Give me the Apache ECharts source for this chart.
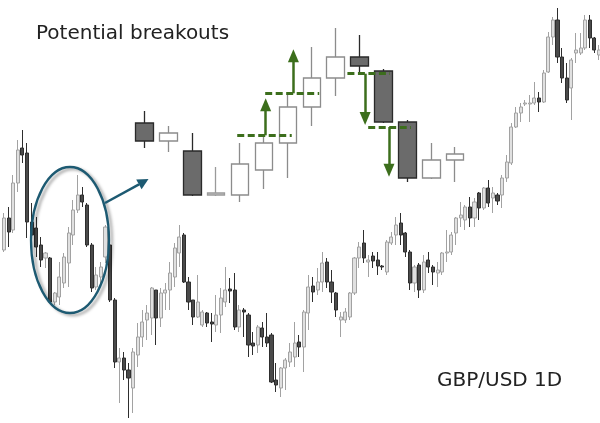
<!DOCTYPE html>
<html><head><meta charset="utf-8">
<script src="https://cdn.jsdelivr.net/npm/echarts@6/dist/echarts.min.js"></script>
<style>html,body{margin:0;padding:0;background:#fff}#c{width:600px;height:423px}</style>
</head><body><div id="c"></div><script>
// Main GBP/USD daily candles (price levels)
const mainOpen = [170,202,190,237,272,267,198,192,175,162, 162,118,123,137,157,185,210,225,215,175, 133,143,163,175,120,58,62,50,32,65, 83,100,102,130,102,127,130,143,167,185, 138,120,103,95,107,98,95,105,118,131, 130,93,110,105,77,75,92,83,85,40, 32,52,58,63,78,73,107,134,130,138, 158,138,127,100,100,103,127,162,177,158, 164,160,154,148,177,185,197,187,168,137, 155,130,160,153,147,148,167,168,187,202, 200,213,202,227,212,232,222,225,225,242, 257,293,307,316,316,317,322,318,348,383, 400,363,342,332,367,367,372,400,382,365];
const mainClose = [202,188,237,270,265,198,185,173,160,167, 118,127,143,163,187,210,225,218,175,132, 145,153,193,120,58,62,50,42,68,83, 98,107,132,102,127,130,147,172,183,138, 118,103,118,108,97,96,105,122,130,129, 93,110,108,75,74,93,83,77,38,35, 52,60,68,77,73,108,133,128,138,157, 138,128,110,103,108,127,162,173,162,160, 159,154,153,178,183,195,185,168,137,153, 130,158,153,148,150,167,168,185,202,205, 213,202,218,212,232,217,227,219,242,258, 293,307,313,317,317,322,318,347,383,400, 363,342,320,360,370,372,400,382,370,370];
const mainLow = [168,173,187,228,257,182,180,163,153,152, 117,115,115,132,133,175,207,213,173,128, 130,135,157,118,52,17,40,2,7,53, 73,80,85,75,93,110,110,133,153,137, 110,95,102,93,93,78,88,87,113,117, 90,88,83,63,65,67,73,73,37,28, 23,30,53,53,63,48,90,118,125,128, 132,117,103,83,97,100,125,152,157,143, 152,145,150,145,175,175,175,163,130,128, 122,127,147,135,133,145,158,165,175,193, 190,193,193,200,210,213,207,215,212,238, 255,292,298,314,298,315,308,317,347,375, 357,337,317,300,357,365,370,372,367,360];
const mainHigh = [207,213,245,280,290,277,217,203,183,168, 163,128,158,167,193,220,245,233,217,177, 153,158,195,177,122,72,68,57,72,97, 110,115,133,130,132,137,158,177,195,187, 143,120,145,110,108,107,125,132,153,142, 147,115,112,107,88,95,98,107,87,57, 53,62,77,98,85,110,145,143,152,168, 162,150,128,108,112,128,163,178,190,165, 168,168,155,180,188,203,207,188,170,155, 157,165,168,155,158,168,190,188,203,218, 215,223,222,228,233,240,233,227,245,265, 297,313,317,320,325,338,328,350,388,403, 412,372,357,362,387,387,405,405,383,375];
const mainDays = mainOpen.map((_, i) => 'D' + (i + 1));

// Inset: enlarged candles
const insetOpen  = [87,69,59,15,15,40,67,103,132,153,139,88,32,50];
const insetClose = [69,77,15,17,46,67,103,132,153,144,88,32,50,56];
const insetLow   = [62,58,14,14,8,21,32,84,114,137,87,28,31,28];
const insetHigh  = [99,84,77,43,67,74,117,163,182,175,141,90,67,63];
const insetDays = insetOpen.map((_, i) => 'S' + (i + 1));

// Breakout annotations (inset coordinates: candle index, price level)
const breakLevel = [74.7, 116.7, 136.3, 83];
const breakFrom  = [3.88, 5.05, 8.49, 9.36];
const breakTo    = [6.16, 7.31, 10.27, 11.15];
const arrowX     = [5.07, 6.23, 9.23, 10.23];
const arrowTip   = [111.7, 160.7, 85, 33.3];

const GREEN = '#3c6e1c';
const HEAD = 13;

const chart = echarts.init(document.getElementById('c'), null, {renderer: 'canvas'});

const dashData = breakLevel.map((lv, i) => [{coord: [breakFrom[i], lv]}, {coord: [breakTo[i], lv]}]);
const arrowData = arrowX.map((x, i) => {
  const dir = arrowTip[i] > breakLevel[i] ? 1 : -1;
  return [{coord: [x, breakLevel[i]]}, {coord: [x, arrowTip[i] - dir * HEAD / 2]}];
});

const insetData = insetOpen.map((o, i) => {
  const v = [o, insetClose[i], insetLow[i], insetHigh[i]];
  return Math.abs(insetClose[i] - o) < 3 ? {value: v, itemStyle: {color: '#d4d4d4', borderColor: '#9a9a9a'}} : v;
});

chart.setOption({
  animation: false,
  backgroundColor: '#fff',
  grid: [
    {left: 4, right: 1, top: 0, height: 420},
    {left: 132.55, width: 334.6, top: 20, height: 190}
  ],
  xAxis: [
    {type: 'category', gridIndex: 0, data: mainDays, boundaryGap: false, show: false},
    {type: 'category', gridIndex: 1, data: insetDays, boundaryGap: true, show: false},
    {type: 'value', gridIndex: 1, min: -0.5, max: 13.5, show: false}
  ],
  yAxis: [
    {type: 'value', gridIndex: 0, min: 0, max: 420, show: false},
    {type: 'value', gridIndex: 1, min: 0, max: 190, show: false}
  ],
  series: [
    {
      type: 'candlestick', xAxisIndex: 0, yAxisIndex: 0, barWidth: 3.6,
      data: mainOpen.map((o, i) => [o, mainClose[i], mainLow[i], mainHigh[i]]),
      itemStyle: {color: '#e0e0e0', borderColor: '#a2a2a2', color0: '#4a4a4a', borderColor0: '#2e2e2e', borderWidth: 1},
      silent: true
    },
    {
      type: 'candlestick', xAxisIndex: 1, yAxisIndex: 1, barWidth: 18,
      data: insetData,
      itemStyle: {color: '#ffffff', borderColor: '#8c8c8c', color0: '#6b6b6b', borderColor0: '#2a2a2a', borderWidth: 1.3},
      silent: true
    },
    {
      type: 'line', xAxisIndex: 2, yAxisIndex: 1, data: [], silent: true,
      markLine: {
        silent: true, symbol: ['none', 'none'], label: {show: false},
        lineStyle: {color: GREEN, width: 3, type: [7, 3.5]},
        emphasis: {disabled: true},
        data: dashData
      }
    },
    {
      type: 'line', xAxisIndex: 2, yAxisIndex: 1, data: [], silent: true,
      markLine: {
        silent: true, symbol: ['none', 'triangle'], symbolSize: [11, HEAD], label: {show: false},
        lineStyle: {color: GREEN, width: 2.5, type: 'solid'},
        itemStyle: {color: GREEN},
        emphasis: {disabled: true},
        data: arrowData
      }
    }
  ],
  graphic: [
    {type: 'ellipse', z: 100, shape: {cx: 70, cy: 240, rx: 39, ry: 73},
     style: {fill: 'none', stroke: '#1d5a72', lineWidth: 2.3, shadowBlur: 3, shadowColor: 'rgba(0,0,0,0.35)', shadowOffsetX: 3, shadowOffsetY: 2}},
    {type: 'line', z: 100, shape: {x1: 105, y1: 203, x2: 139, y2: 184.4}, style: {stroke: '#1d5a72', lineWidth: 2.5}},
    {type: 'polygon', z: 100, shape: {points: [[148.5, 179], [141.6, 189.2], [136.2, 179.6]]}, style: {fill: '#1d5a72'}},
    {type: 'text', z: 100, x: 36, y: 33.5, style: {text: 'Potential breakouts', font: '20px "DejaVu Sans"', fill: '#222', verticalAlign: 'middle'}},
    {type: 'text', z: 100, x: 437, y: 381, style: {text: 'GBP/USD 1D', font: '20px "DejaVu Sans"', fill: '#222', verticalAlign: 'middle'}}
  ]
});
</script></body></html>
